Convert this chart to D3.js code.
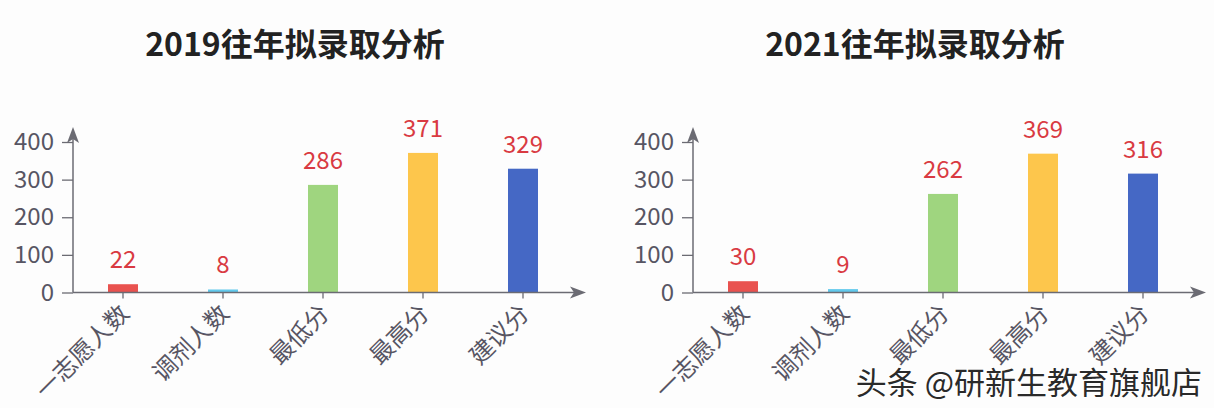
<!DOCTYPE html>
<html><head><meta charset="utf-8">
<script src="https://cdn.jsdelivr.net/npm/d3@7"></script>
<style>
html,body{margin:0;padding:0;background:#fdfdfd;}
svg{display:block;}
</style></head>
<body>
<svg id="c" width="1214" height="408"></svg>
<script>
const categories = ["一志愿人数","调剂人数","最低分","最高分","建议分"];
const titles = ["2019往年拟录取分析","2021往年拟录取分析"];
const values2019 = [22, 8, 286, 371, 329];
const values2021 = [30, 9, 262, 369, 316];
const yTicks = [0, 100, 200, 300, 400];
const barColors = ["#e9524f","#62c9ec","#9fd57f","#fdc64c","#4568c5"];
const watermark = "头条 @研新生教育旗舰店";

const svg = d3.select("#c");
const FONT = "'Noto Sans CJK SC','Noto Sans',sans-serif";

function drawChart(ox, title, vals){
  const g = svg.append("g").attr("transform",`translate(${ox},0)`);
  const x0 = 73, x1 = 573, y0 = 292.5;
  const x = d3.scaleBand().domain(categories).range([x0, x1]).paddingInner(0).paddingOuter(0);
  const y = d3.scaleLinear().domain([0,400]).range([y0, 142]);
  const axisCol = "#6b6b73";

  g.append("text").attr("x",295).attr("y",56).attr("text-anchor","middle")
    .attr("font-family",FONT).attr("font-weight","bold").attr("font-size",32)
    .attr("fill","#222").text(title);

  // bars
  g.selectAll("rect.bar").data(vals).join("rect")
    .attr("x",(d,i)=>x(categories[i])+x.bandwidth()/2-15)
    .attr("width",30)
    .attr("y",d=>y(d)).attr("height",d=>y0-y(d))
    .attr("fill",(d,i)=>barColors[i]);

  // value labels
  g.selectAll("text.val").data(vals).join("text")
    .attr("x",(d,i)=>x(categories[i])+x.bandwidth()/2)
    .attr("y",d=>y(d)-16)
    .attr("text-anchor","middle").attr("font-family",FONT).attr("font-size",24)
    .attr("fill","#d93a42").text(d=>d);

  // y axis
  const ya = d3.axisLeft(y).tickValues(yTicks).tickSize(11).tickPadding(8);
  const yg = g.append("g").attr("transform",`translate(${x0},0)`).call(ya);
  yg.select(".domain").remove();
  yg.selectAll("line").attr("stroke",axisCol).attr("stroke-width",1.3);
  yg.selectAll("text").attr("font-family",FONT).attr("font-size",24).attr("fill","#575563");
  g.append("line").attr("x1",x0).attr("x2",x0).attr("y1",y0).attr("y2",134)
    .attr("stroke",axisCol).attr("stroke-width",1.5);
  g.append("path").attr("d",`M${x0},127 L${x0+6},143 L${x0},139 L${x0-6},143 Z`).attr("fill",axisCol);

  // x axis
  const xa = d3.axisBottom(x).tickSize(6).tickPadding(0).tickFormat("");
  const xg = g.append("g").attr("transform",`translate(0,${y0})`).call(xa);
  xg.select(".domain").remove();
  xg.selectAll("line").attr("stroke",axisCol).attr("stroke-width",1.3);
  g.append("line").attr("x1",x0).attr("x2",578).attr("y1",y0).attr("y2",y0)
    .attr("stroke",axisCol).attr("stroke-width",1.5);
  g.append("path").attr("d",`M586,${y0} L570,${y0-6} L574,${y0} L570,${y0+6} Z`).attr("fill",axisCol);

  g.selectAll("text.xl").data(categories).join("text")
    .attr("transform",d=>`translate(${x(d)+x.bandwidth()/2+3},${y0+18}) rotate(-45)`)
    .attr("text-anchor","end").attr("dominant-baseline","middle")
    .attr("font-family",FONT).attr("font-size",24).attr("fill","#575563").text(d=>d);
}

drawChart(0, titles[0], values2019);
drawChart(620, titles[1], values2021);

svg.append("text").attr("x",1202).attr("y",394).attr("text-anchor","end")
  .attr("font-family",FONT).attr("font-size",31).attr("fill","#2a2a2a")
  .attr("stroke","#ffffff").attr("stroke-width",2).attr("paint-order","stroke")
  .text(watermark);
</script>
</body></html>
